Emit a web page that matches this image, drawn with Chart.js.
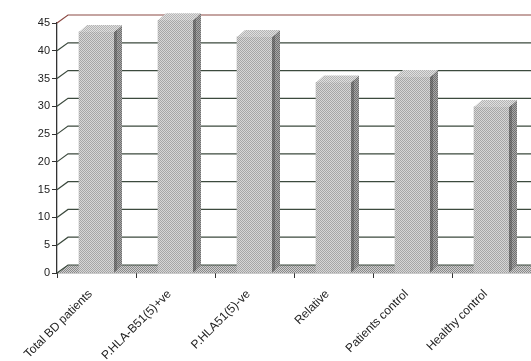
<!DOCTYPE html>
<html>
<head>
<meta charset="utf-8">
<script src="https://cdn.jsdelivr.net/npm/chart.js@4"></script>
<style>
  html, body { margin: 0; padding: 0; background: #fff; }
  #wrap { width: 531px; height: 361px; }
</style>
</head>
<body>
<div id="wrap"><canvas id="chart" width="531" height="361"></canvas></div>
<script>
// Groups and values
const groups = ['Total BD patients', 'P.HLA-B51(5)+ve', 'P.HLA51(5)-ve', 'Relative', 'Patients control', 'Healthy control'];
const percents = [43.4, 45.5, 42.5, 34.3, 35.3, 29.9];
const yTicks = [0, 5, 10, 15, 20, 25, 30, 35, 40, 45];

// Depth of the fake 3D wall and of the bars
const WALL_DX = 11, WALL_DY = -8;
const BAR_DX = 8, BAR_DY = -7;

// Small dotted tile so the fills look like the printed halftone
function halftone(light, dark) {
    const c = document.createElement('canvas');
    c.width = 2; c.height = 2;
    const g = c.getContext('2d');
    g.fillStyle = light;
    g.fillRect(0, 0, 2, 2);
    g.fillStyle = dark;
    g.fillRect(0, 0, 1, 1);
    g.fillRect(1, 1, 1, 1);
    return g.createPattern(c, 'repeat');
}

const frontFill = halftone('#d6d6d6', '#a6a6a6');
const sideFill = halftone('#a8a8a8', '#707070');
const topFill = halftone('#e0e0e0', '#b4b4b4');
const floorFill = halftone('#cfcfcf', '#8a8a8a');

// Back wall grid, floor and the 3D faces of each bar
const wall3d = {
    id: 'wall3d',
    beforeDatasetsDraw(chart) {
        const ctx = chart.ctx;
        const a = chart.chartArea;
        const y = chart.scales.y;
        ctx.save();

        // floor
        ctx.fillStyle = floorFill;
        ctx.beginPath();
        ctx.moveTo(a.left, a.bottom);
        ctx.lineTo(a.left + WALL_DX, a.bottom + WALL_DY);
        ctx.lineTo(a.right, a.bottom + WALL_DY);
        ctx.lineTo(a.right, a.bottom);
        ctx.closePath();
        ctx.fill();

        // gridlines on the back wall, joined to the axis ticks
        yTicks.forEach(v => {
            const py = y.getPixelForValue(v);
            ctx.strokeStyle = v === yTicks[yTicks.length - 1] ? '#8c4a44' : '#3c4a3e';
            ctx.lineWidth = 1.2;
            ctx.beginPath();
            ctx.moveTo(a.left, py);
            ctx.lineTo(a.left + WALL_DX, py + WALL_DY);
            ctx.lineTo(a.right, py + WALL_DY);
            ctx.stroke();
        });
        ctx.restore();
    },
    afterDatasetsDraw(chart) {
        const ctx = chart.ctx;
        ctx.save();
        chart.getDatasetMeta(0).data.forEach(bar => {
            const l = bar.x - bar.width / 2;
            const r = bar.x + bar.width / 2;
            const t = bar.y;
            const b = bar.base;

            // right side
            ctx.fillStyle = sideFill;
            ctx.beginPath();
            ctx.moveTo(r, b);
            ctx.lineTo(r, t);
            ctx.lineTo(r + BAR_DX, t + BAR_DY);
            ctx.lineTo(r + BAR_DX, b + BAR_DY);
            ctx.closePath();
            ctx.fill();

            // darker band where the side meets the front
            ctx.fillStyle = 'rgba(60,60,60,0.35)';
            ctx.beginPath();
            ctx.moveTo(r, b);
            ctx.lineTo(r, t);
            ctx.lineTo(r + 3, t + BAR_DY * 3 / BAR_DX);
            ctx.lineTo(r + 3, b + BAR_DY * 3 / BAR_DX);
            ctx.closePath();
            ctx.fill();

            // top
            ctx.fillStyle = topFill;
            ctx.beginPath();
            ctx.moveTo(l, t);
            ctx.lineTo(r, t);
            ctx.lineTo(r + BAR_DX, t + BAR_DY);
            ctx.lineTo(l + BAR_DX, t + BAR_DY);
            ctx.closePath();
            ctx.fill();
        });
        ctx.restore();
    }
};

const axisFont = { family: "'Liberation Sans', Arial, sans-serif", size: 11 };

const ctx = document.getElementById('chart').getContext('2d');
new Chart(ctx, {
    type: 'bar',
    data: {
        labels: groups,
        datasets: [{
            data: percents,
            backgroundColor: frontFill,
            borderWidth: 0,
            barThickness: 35,
            clip: false
        }]
    },
    options: {
        responsive: false,
        animation: false,
        layout: { padding: { top: 23, right: 0, left: 0, bottom: 0 } },
        plugins: {
            legend: { display: false },
            tooltip: { enabled: false }
        },
        scales: {
            x: {
                offset: true,
                grid: {
                    offset: true,
                    drawOnChartArea: false,
                    tickLength: 5,
                    color: '#333'
                },
                border: { color: '#333', width: 1.3 },
                ticks: {
                    color: '#222',
                    font: { family: axisFont.family, size: 12 },
                    minRotation: 45,
                    maxRotation: 45,
                    padding: 9,
                    labelOffset: -6
                },
                afterFit(scale) { scale.height = 88; }
            },
            y: {
                min: 0,
                max: 45,
                afterBuildTicks(scale) { scale.ticks = yTicks.map(v => ({ value: v })); },
                grid: {
                    drawOnChartArea: false,
                    tickLength: 5,
                    color: '#333'
                },
                border: { color: '#333', width: 1.3 },
                ticks: {
                    color: '#222',
                    font: axisFont,
                    padding: 2
                },
                afterFit(scale) { scale.width = 57; }
            }
        }
    },
    plugins: [wall3d]
});
</script>
</body>
</html>
